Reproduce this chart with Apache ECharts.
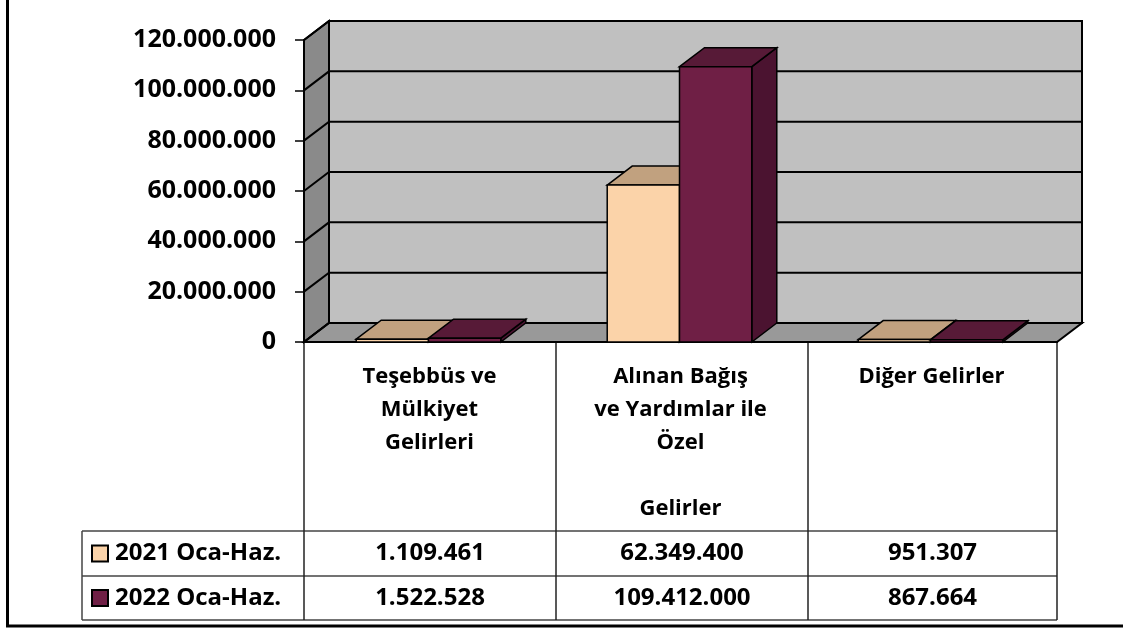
<!DOCTYPE html>
<html>
<head>
<meta charset="utf-8">
<script src="https://cdn.jsdelivr.net/npm/echarts@6/dist/echarts.min.js"></script>
<style>
  html, body { margin: 0; padding: 0; background: #fff; }
  #chart { width: 1123px; height: 628px; }
</style>
</head>
<body>
<div id="chart"></div>
<script>
// data
var categories = ['Teşebbüs ve\nMülkiyet\nGelirleri', 'Alınan Bağış\nve Yardımlar ile\nÖzel\n\nGelirler', 'Diğer Gelirler'];
var seriesNames = ['2021 Oca-Haz.', '2022 Oca-Haz.'];
var values2021 = [1109461, 62349400, 951307];
var values2022 = [1522528, 109412000, 867664];
var yTicks = [0, 20000000, 40000000, 60000000, 80000000, 100000000, 120000000];

var FONT = '"Open Sans"';
var DX = 25, DY = -19;   // 3d depth offset
var colors = [
  { front: '#fbd3a9', top: '#c1a17f', side: '#b8946f' },
  { front: '#6f1f45', top: '#571a37', side: '#4b1330' }
];

function fmt(v) {
  return String(v).replace(/\B(?=(\d{3})+(?!\d))/g, '.');
}

var myChart = echarts.init(document.getElementById('chart'));

function renderWalls(params, api) {
  var cs = params.coordSys;
  var x0 = cs.x, x1 = cs.x + cs.width;
  var y0 = api.coord([0, 0])[1];
  var yTop = api.coord([0, yTicks[yTicks.length - 1]])[1];
  var children = [];
  var stroke = { stroke: '#000', lineWidth: 2 };
  children.push({ type: 'polygon', shape: { points: [[x0 + DX, yTop + DY], [x1 + DX, yTop + DY], [x1 + DX, y0 + DY], [x0 + DX, y0 + DY]] },
    style: Object.assign({ fill: '#c0c0c0' }, stroke) });
  children.push({ type: 'polygon', shape: { points: [[x0, yTop], [x0 + DX, yTop + DY], [x0 + DX, y0 + DY], [x0, y0]] },
    style: Object.assign({ fill: '#8a8a8a' }, stroke) });
  children.push({ type: 'polygon', shape: { points: [[x0, y0], [x0 + DX, y0 + DY], [x1 + DX, y0 + DY], [x1, y0]] },
    style: Object.assign({ fill: '#999999' }, stroke) });
  yTicks.forEach(function (t) {
    var y = api.coord([0, t])[1];
    children.push({ type: 'polyline', shape: { points: [[x0, y], [x0 + DX, y + DY], [x1 + DX, y + DY]] },
      style: { stroke: '#000', lineWidth: 2, fill: null } });
  });
  return { type: 'group', children: children };
}

function makeBarRenderer(idx) {
  return function (params, api) {
    var cat = api.value(0);
    var base = api.coord([cat, 0]);
    var top = api.coord([cat, api.value(1)]);
    var band = api.size([1, 0])[0];
    var w = band * 0.288;
    var xl = idx === 0 ? base[0] - 1 - w : base[0] - 1;
    var xr = xl + w;
    var c = colors[idx];
    var st = { stroke: '#000', lineWidth: 1.5 };
    return {
      type: 'group',
      children: [
        { type: 'polygon', shape: { points: [[xr, top[1]], [xr + DX, top[1] + DY], [xr + DX, base[1] + DY], [xr, base[1]]] },
          style: Object.assign({ fill: c.side }, st) },
        { type: 'polygon', shape: { points: [[xl, top[1]], [xl + DX, top[1] + DY], [xr + DX, top[1] + DY], [xr, top[1]]] },
          style: Object.assign({ fill: c.top }, st) },
        { type: 'rect', shape: { x: xl, y: top[1], width: w, height: base[1] - top[1] },
          style: Object.assign({ fill: c.front }, st) }
      ]
    };
  };
}

// table below the chart
var tableLeft = 82, colX = [304, 556, 808, 1057], axisY = 342, rowY = [531, 576, 620];
var graphics = [];
var lineStyle = { stroke: '#444', lineWidth: 1.5 };
rowY.forEach(function (y) {
  graphics.push({ type: 'line', shape: { x1: tableLeft, y1: y, x2: colX[3], y2: y }, style: lineStyle });
});
graphics.push({ type: 'line', shape: { x1: tableLeft, y1: rowY[0], x2: tableLeft, y2: rowY[2] }, style: lineStyle });
colX.forEach(function (x) {
  graphics.push({ type: 'line', shape: { x1: x, y1: axisY, x2: x, y2: rowY[2] }, style: { stroke: '#222', lineWidth: 1.5 } });
});
[values2021, values2022].forEach(function (vals, r) {
  var yMid = (rowY[r] + rowY[r + 1]) / 2;
  // legend key in the table
  graphics.push({ type: 'rect', shape: { x: 92, y: yMid - 8, width: 16, height: 16 },
    style: { fill: colors[r].front, stroke: '#000', lineWidth: 2 } });
  graphics.push({ type: 'text', x: 115, y: yMid,
    style: { text: seriesNames[r], font: 'bold 24px ' + FONT, fill: '#000', align: 'left', verticalAlign: 'middle' } });
  vals.forEach(function (v, c) {
    graphics.push({ type: 'text', x: (colX[c] + colX[c + 1]) / 2, y: yMid,
      style: { text: fmt(v), font: 'bold 24px ' + FONT, fill: '#000', align: 'center', verticalAlign: 'middle' } });
  });
});
// outer frame (left and bottom)
graphics.push({ type: 'line', shape: { x1: 7.5, y1: 0, x2: 7.5, y2: 626 }, style: { stroke: '#000', lineWidth: 3 } });
graphics.push({ type: 'line', shape: { x1: 6, y1: 626, x2: 1123, y2: 626 }, style: { stroke: '#000', lineWidth: 3 } });

myChart.setOption({
  animation: false,
  grid: { left: 304, right: 66, top: 40, bottom: 286 },
  xAxis: {
    type: 'category',
    data: categories,
    axisLine: { show: true, lineStyle: { color: '#000', width: 2 } },
    axisTick: { show: false },
    axisLabel: { interval: 0, fontFamily: FONT, fontWeight: 'bold', fontSize: 22, color: '#000', lineHeight: 33, margin: 18, verticalAlign: 'top' }
  },
  yAxis: {
    type: 'value',
    min: 0, max: 120000000, interval: 20000000,
    axisLine: { show: true, lineStyle: { color: '#000', width: 2 } },
    axisTick: { show: true, length: 9, lineStyle: { color: '#000', width: 1.5 } },
    splitLine: { show: false },
    axisLabel: { formatter: fmt, fontFamily: FONT, fontWeight: 'bold', fontSize: 25, color: '#000', margin: 28 }
  },
  graphic: graphics,
  series: [
    { type: 'custom', name: 'walls', silent: true, renderItem: renderWalls, data: [[0, 0]], z: 1 },
    { type: 'custom', name: seriesNames[0], renderItem: makeBarRenderer(0), z: 2,
      data: values2021.map(function (v, i) { return [i, v]; }) },
    { type: 'custom', name: seriesNames[1], renderItem: makeBarRenderer(1), z: 3,
      data: values2022.map(function (v, i) { return [i, v]; }) }
  ]
});
</script>
</body>
</html>
